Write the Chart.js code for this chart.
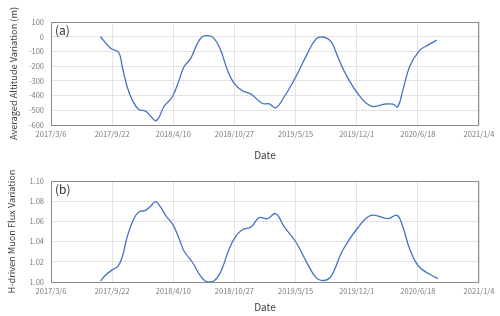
<!DOCTYPE html>
<html>
<head>
<meta charset="utf-8">
<script src="https://cdn.jsdelivr.net/npm/chart.js@4"></script>
<style>
  body { margin:0; background:#fff; }
  #wrapA { position:absolute; left:0; top:0; width:500px; height:165px; }
  #wrapB { position:absolute; left:0; top:165px; width:500px; height:151px; }
</style>
</head>
<body>
<div id="wrapA"><canvas id="chartA"></canvas></div>
<div id="wrapB"><canvas id="chartB"></canvas></div>
<script>
// dates as excel serial numbers (days), 42800 = 2017/3/6
const xTicksMin = 42800, xTicksMax = 44200, xStep = 200;

const altDays = [42962,42995,43022,43033,43049,43066,43087,43109,43126,43142,43153,43169,43197,43219,43235,43257,43279,43295,43314,43333,43355,43377,43399,43426,43454,43492,43514,43535,43563,43601,43639,43667,43689,43716,43738,43760,43803,43847,43891,43918,43934,43951,43973,44005,44033,44062];
const altValues = [0,-79,-109,-204,-340,-431,-494,-506,-540,-571,-549,-476,-408,-295,-204,-147,-45,0,7,-11,-91,-227,-317,-367,-390,-454,-456,-483,-408,-272,-113,-16,-2,-34,-136,-238,-385,-472,-458,-458,-476,-363,-204,-95,-57,-23];

const fluxDays = [42962,42978,43000,43019,43033,43049,43071,43087,43109,43126,43142,43158,43175,43200,43219,43235,43262,43290,43311,43333,43355,43383,43404,43426,43454,43481,43508,43535,43563,43601,43639,43667,43689,43716,43754,43803,43847,43902,43932,43951,43973,44005,44065];
const fluxValues = [1.001,1.0066,1.012,1.0155,1.0248,1.0446,1.0627,1.0693,1.071,1.075,1.0795,1.0743,1.066,1.056,1.043,1.0307,1.0198,1.0056,1.000,1.001,1.0099,1.033,1.0452,1.0518,1.0545,1.0637,1.0627,1.0677,1.0545,1.0396,1.018,1.0043,1.0013,1.0056,1.0314,1.0535,1.066,1.0627,1.066,1.0545,1.033,1.0149,1.0033];

function serialToLabel(v){
  let d = new Date(Date.UTC(1899,11,30) + v*86400000)
  return d.getUTCFullYear()+"/"+(d.getUTCMonth()+1)+"/"+d.getUTCDate()
}

const tickFont = {family:"'Noto Sans CJK JP', 'Noto Sans', sans-serif", size:7.5}
const titleFont = {family:"'Noto Sans CJK JP', 'Noto Sans', sans-serif", size:9.2}

const boxPlugin = {
  id:'box',
  afterDraw(chart, args, opts){
    const a = chart.chartArea, ctx = chart.ctx
    ctx.save()
    ctx.strokeStyle = '#8c8c8c'
    ctx.lineWidth = 1
    ctx.strokeRect(Math.round(a.left)+0.5, Math.round(a.top)+0.5, Math.round(a.right-a.left)-1, Math.round(a.bottom-a.top))
    ctx.fillStyle = '#333'
    ctx.font = "12px 'Noto Sans CJK JP', 'Noto Sans', sans-serif"
    ctx.textBaseline = 'middle'
    ctx.fillText(opts.label, a.left+4, a.top+8)
    ctx.restore()
  }
}

function makeChart(id, days, values, cfg){
  let pts = days.map((d,i)=>({x:d, y:values[i]}))
  return new Chart(document.getElementById(id), {
    type:'line',
    data:{ datasets:[{ data:pts, borderColor:'#4472C4', borderWidth:1.3, pointRadius:0, tension:0.4, fill:false }] },
    options:{
      responsive:true, maintainAspectRatio:false, animation:false,
      layout:{ padding:{ top:cfg.padTop, right:21, left:0, bottom:0 } },
      plugins:{ legend:{display:false}, tooltip:{enabled:false}, box:{label:cfg.label} },
      scales:{
        x:{
          type:'linear', min:xTicksMin, max:xTicksMax,
          afterBuildTicks:(s)=>{ let t=[]; for(let v=xTicksMin; v<=xTicksMax; v+=xStep) t.push({value:v}); s.ticks=t },
          afterFit:(s)=>{ s.height = cfg.xHeight },
          grid:{ color:'#e3e3e3', drawTicks:false },
          border:{ display:false },
          ticks:{ padding:5, color:'#7a7a7a', font:tickFont, maxRotation:0, autoSkip:false, callback:(v)=>serialToLabel(v) },
          title:{ display:true, text:'Date', color:'#404040', font:{...titleFont, size:10}, padding:{top:0,bottom:cfg.dateBottom} }
        },
        y:{
          min:cfg.yMin, max:cfg.yMax,
          afterFit:(s)=>{ s.width = 51 },
          grid:{ color:'#e3e3e3', drawTicks:false },
          border:{ display:false },
          ticks:{ stepSize:cfg.yStep, padding:7, color:'#7a7a7a', font:tickFont, callback:cfg.yFmt },
          title:{ display:true, text:cfg.yTitle, color:'#404040', font:titleFont, padding:{top:cfg.yTitlePad,bottom:0} }
        }
      }
    },
    plugins:[boxPlugin]
  })
}

makeChart('chartA', altDays, altValues, {
  padTop:22, xHeight:40, dateBottom:4, label:'(a)',
  yMin:-600, yMax:100, yStep:100, yFmt:(v)=>v,
  yTitle:'Averaged Altitude Variation (m)', yTitlePad:7.5
})

makeChart('chartB', fluxDays, fluxValues, {
  padTop:16, xHeight:34, dateBottom:3, label:'(b)',
  yMin:1.0, yMax:1.1, yStep:0.02, yFmt:(v)=>v.toFixed(2),
  yTitle:'H-driven Muon Flux Variation', yTitlePad:5.5
})
</script>
</body>
</html>
